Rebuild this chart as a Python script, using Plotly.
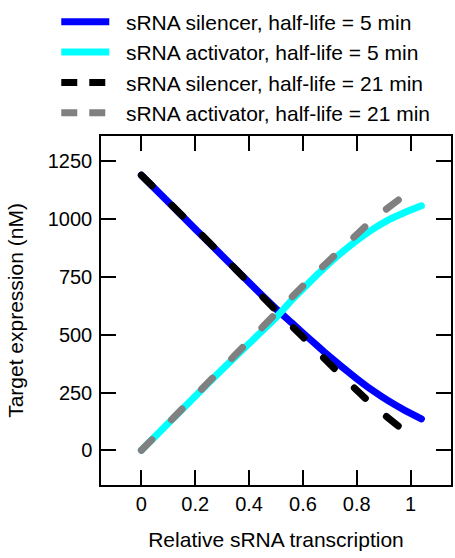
import plotly.graph_objects as go

# Relative sRNA transcription and target expression (nM), 5 min half-life runs
x_fast = [0.0, 0.1, 0.2, 0.3, 0.4, 0.5, 0.56, 0.62, 0.68, 0.74, 0.80, 0.86, 0.92, 0.98, 1.04]
silencer_fast = [1190, 1074, 958, 842, 726, 612, 550, 487, 425, 366, 310, 258, 212, 172, 136]
activator_fast = [0, 117, 234, 350, 462, 574, 652, 722, 790, 852, 908, 957, 998, 1030, 1058]

# 21 min half-life runs
x_slow = [0.0, 0.1, 0.2, 0.3, 0.4, 0.5, 0.6, 0.66, 0.72, 0.78, 0.84, 0.9, 0.96, 0.985]
silencer_slow = [1190, 1075, 960, 843, 724, 605, 490, 420, 350, 282, 216, 156, 100, 86]
activator_slow = [0, 118, 237, 355, 474, 593, 711, 780, 846, 912, 977, 1035, 1088, 1108]

series = [
    ("sRNA silencer, half-life = 5 min", x_fast, silencer_fast, "#0000ff", "solid"),
    ("sRNA activator, half-life = 5 min", x_fast, activator_fast, "#00ffff", "solid"),
    ("sRNA silencer, half-life = 21 min", x_slow, silencer_slow, "#000000", "15px,28px"),
    ("sRNA activator, half-life = 21 min", x_slow, activator_slow, "#808080", "15px,28px"),
]

x_ticks = [0, 0.2, 0.4, 0.6, 0.8, 1]
x_tick_text = ["0", "0.2", "0.4", "0.6", "0.8", "1"]
y_ticks = [0, 250, 500, 750, 1000, 1250]

fig = go.Figure()
for name, xs, ys, color, dash in series:
    fig.add_trace(go.Scatter(
        x=xs, y=ys, name="\u00a0\u00a0" + name, mode="lines",
        line=dict(color=color, width=7, dash=dash, shape="spline", smoothing=0.3),
    ))

font = "Liberation Sans, Arial, sans-serif"
axis_common = dict(
    showline=True, linecolor="black", linewidth=1.5, mirror="allticks",
    ticks="inside", ticklen=15, tickwidth=1.5, tickcolor="black",
    showgrid=False, zeroline=False,
    tickfont=dict(family=font, size=20, color="black"),
)

fig.update_layout(
    width=455, height=558,
    margin=dict(l=101, r=2, t=133, b=73),
    paper_bgcolor="white", plot_bgcolor="white",
    font=dict(family=font, size=20, color="black"),
    xaxis=dict(
        range=[-0.15, 1.15], tickvals=x_ticks, ticktext=x_tick_text,
        title=dict(text="Relative sRNA transcription", font=dict(size=21), standoff=19),
        **axis_common,
    ),
    yaxis=dict(
        range=[-150, 1360], tickvals=y_ticks, ticklabelstandoff=3,
        title=dict(text="Target expression (nM)", font=dict(size=21), standoff=18),
        **axis_common,
    ),
    legend=dict(
        x=-0.1278, y=1.385, xanchor="left", yanchor="top",
        bgcolor="rgba(0,0,0,0)", itemwidth=48,
        font=dict(family=font, size=21, color="black"),
        tracegroupgap=0,
    ),
    showlegend=True,
)

# Rounded ends on the plotted curves; shorter dash rhythm in the legend swatches
post = """
var s = document.createElement('style');
s.textContent = '.scatterlayer path.js-line { stroke-linecap: round; stroke-linejoin: round; }'
  + ' .legend path.js-line[style*="15px"] { stroke-dasharray: 16px, 12px !important; }';
document.head.appendChild(s);
"""

fig.write_html("out.html", post_script=post)
